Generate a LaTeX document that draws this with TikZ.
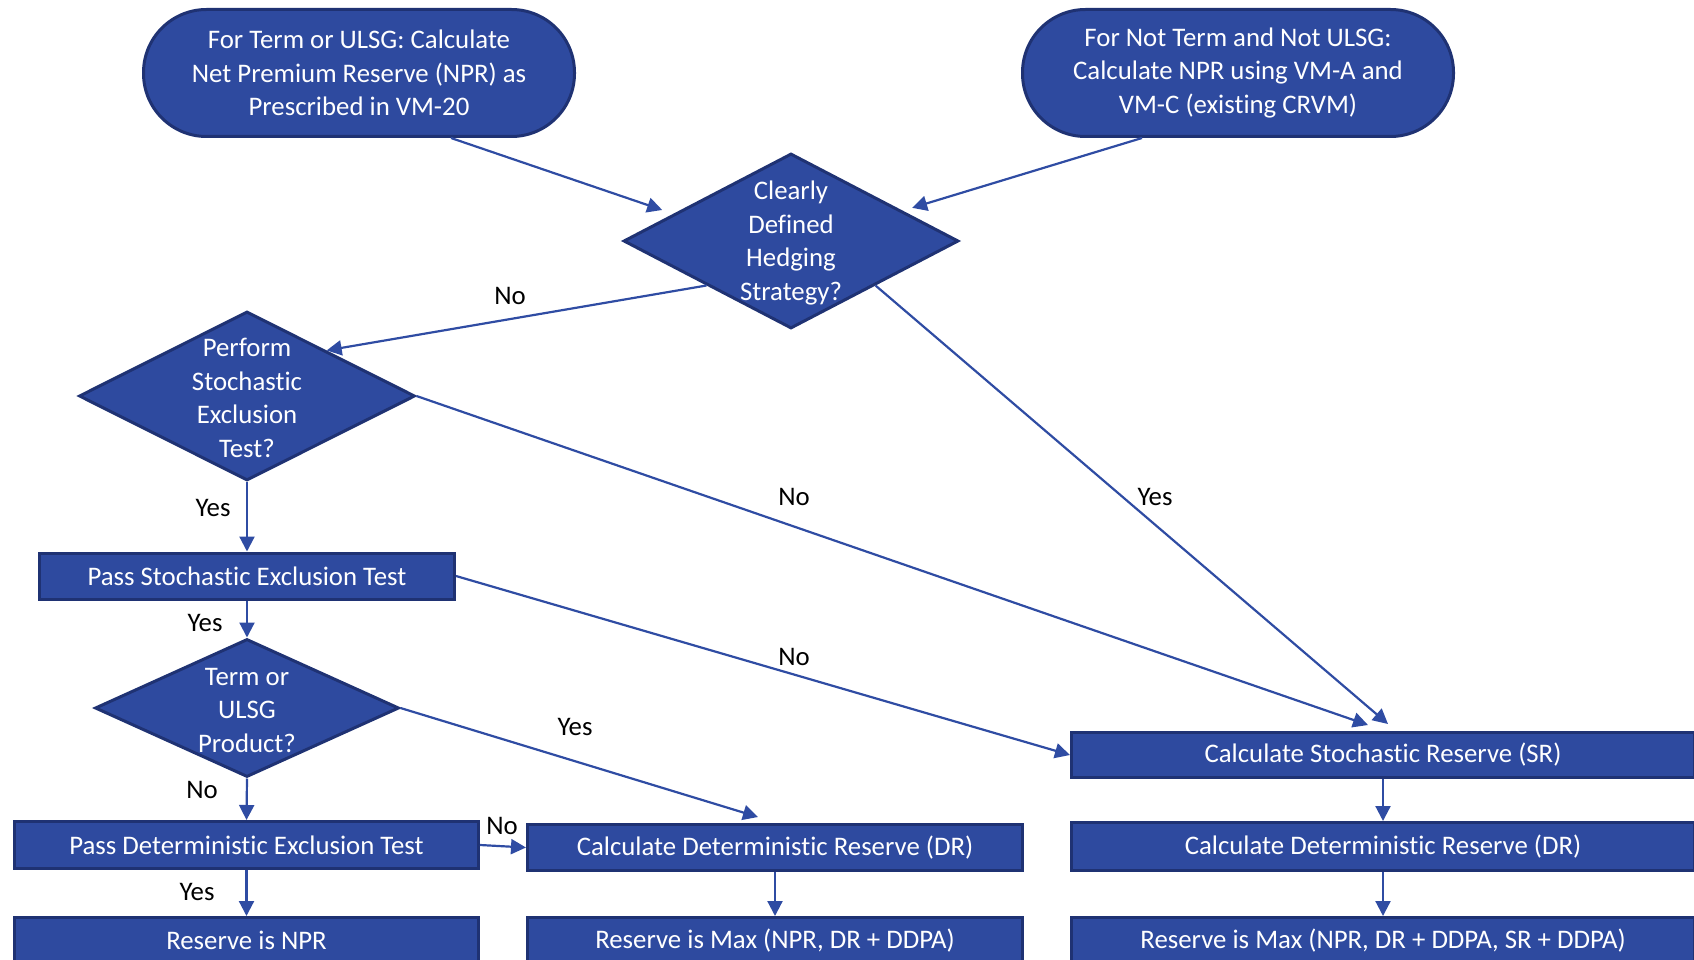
\documentclass[tikz,border=0pt]{standalone}
\usepackage{fontspec}
\setmainfont{Carlito}[Ligatures=NoCommon]
\usepackage{tikz}
\usetikzlibrary{arrows.meta, calc, shapes.geometric}
\definecolor{FlowFill}{HTML}{2E4A9F}
\definecolor{FlowEdge}{HTML}{1F3273}
\definecolor{FlowLine}{HTML}{2F4CA3}
\newcommand{\flowfont}{\fontsize{26.8}{33.5}\selectfont}
\tikzset{
  startbox/.style={draw=FlowEdge, fill=FlowFill, line width=3pt, rounded corners=63pt, minimum width=431pt, minimum height=127pt, text=white, align=center, font=\flowfont},
  decision/.style={diamond, draw=FlowEdge, fill=FlowFill, line width=3pt, inner sep=0pt},
  decisiontext/.style={text=white, align=center, inner sep=0pt, yshift=-2pt, font=\flowfont},
  process/.style={rectangle, draw=FlowEdge, fill=FlowFill, line width=3pt, minimum height=46pt, inner sep=0pt, text=white, font=\flowfont},
  flow/.style={-{Triangle[length=15pt, width=15pt]}, line width=2.2pt, color=FlowLine},
  edgetxt/.style={color=black, inner sep=0pt, font=\flowfont},
}

\begin{document}
\begin{tikzpicture}[x=1pt, y=-1pt]
  % Frame
  \useasboundingbox (0,0) rectangle (1694,960);
  \clip (0,0) rectangle (1694,960);

  % Starting points
  \node[startbox] (termnpr) at (359,73) {For Term or ULSG: Calculate\\Net Premium Reserve (NPR) as\\Prescribed in VM-20};
  \node[startbox] (othernpr) at (1238,73) {For Not Term and Not ULSG:\\Calculate NPR using VM-A and\\VM-C (existing CRVM)};

  % Decisions
  \node[decision, minimum width=335pt, minimum height=175pt] (hedge) at (791,241) {};
  \node[decisiontext] (hedgetext) at (hedge) {Clearly\\Defined\\Hedging\\Strategy?};
  \node[decision, minimum width=336pt, minimum height=169pt] (stochtest) at (247,396) {};
  \node[decisiontext] (stochtesttext) at (stochtest) {Perform\\Stochastic\\Exclusion\\Test?};
  \node[decision, minimum width=304pt, minimum height=138pt] (termprod) at (247,708) {};
  \node[decisiontext] (termprodtext) at (termprod) {Term or\\ULSG\\Product?};

  % Left column
  \node[process, minimum width=415pt] (passstoch) at (247,576) {Pass Stochastic Exclusion Test};
  \node[process, minimum width=464pt, minimum height=47pt] (passdet) at (246.5,845) {Pass Deterministic Exclusion Test};
  \node[process, minimum width=464pt] (resnpr) at (246.5,940.5) {Reserve is NPR};

  % Middle column
  \node[process, minimum width=495pt] (middr) at (775,847.5) {Calculate Deterministic Reserve (DR)};
  \node[process, minimum width=495pt] (midmax) at (775,940.5) {Reserve is Max (NPR, DR + DDPA)};

  % Right column
  \node[process, minimum width=623pt, minimum height=45pt] (sr) at (1383,755) {Calculate Stochastic Reserve (SR)};
  \node[process, minimum width=623pt, minimum height=48pt] (rightdr) at (1383,846.5) {Calculate Deterministic Reserve (DR)};
  \node[process, minimum width=623pt] (rightmax) at (1383,940.5) {Reserve is Max (NPR, DR + DDPA, SR + DDPA)};

  % Into the hedging question
  \draw[flow, shorten >=12pt] ([xshift=92pt]termnpr.south) -- ($(hedge.west)!0.305!(hedge.north)$);
  \draw[flow, shorten >=10pt] ([xshift=-96pt]othernpr.south) -- ($(hedge.north)!0.66!(hedge.east)$);

  % Hedging strategy
  \draw[flow] ($(hedge.west)!0.5!(hedge.south)$) -- ($(stochtest.north)!0.47!(stochtest.east)$);
  \node[edgetxt] (nohedge) at (510,296) {No};
  \draw[flow] ($(hedge.east)!0.5!(hedge.south)$) -- ([xshift=5pt,yshift=7pt]sr.north);
  \node[edgetxt] (yeshedge) at (1155,497) {Yes};

  % Stochastic exclusion test
  \draw[flow] (stochtest.east) -- ([xshift=-15pt,yshift=6pt]sr.north);
  \node[edgetxt] (nostoch) at (794,497) {No};
  \draw[flow] (stochtest.south) -- (passstoch.north);
  \node[edgetxt] (yesstoch) at (213,508) {Yes};

  % Pass stochastic test
  \draw[flow] (passstoch.south) -- (termprod.north);
  \node[edgetxt] (yespass) at (205,623) {Yes};
  \draw[flow] (passstoch.east) -- (sr.west);
  \node[edgetxt] (nopass) at (794,657) {No};

  % Term or ULSG product
  \draw[flow] (termprod.east) -- ([xshift=-17pt,yshift=6pt]middr.north);
  \node[edgetxt] (yesterm) at (575,727) {Yes};
  \draw[flow] (termprod.south) -- (passdet.north);
  \node[edgetxt] (noterm) at (202,790) {No};

  % Deterministic exclusion test
  \draw[flow] (passdet.east) -- (middr.west);
  \node[edgetxt] (nodet) at (502,826) {No};
  \draw[flow] (passdet.south) -- (resnpr.north);
  \node[edgetxt] (yesdet) at (197,892) {Yes};

  % Down the columns
  \draw[flow] (middr.south) -- (midmax.north);
  \draw[flow] (sr.south) -- (rightdr.north);
  \draw[flow] (rightdr.south) -- (rightmax.north);
\end{tikzpicture}
\end{document}
